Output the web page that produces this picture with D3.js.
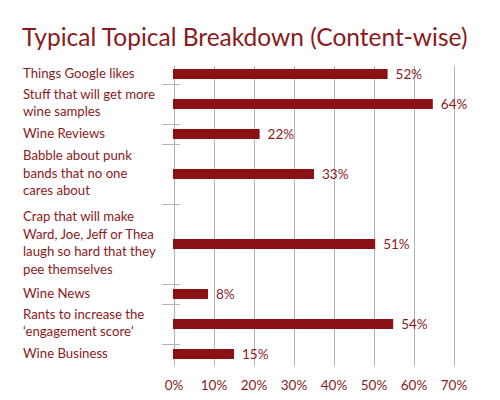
<!DOCTYPE html>
<html>
<head>
<meta charset="utf-8">
<script src="https://cdn.jsdelivr.net/npm/d3@7"></script>
<style>
  html, body { margin: 0; padding: 0; background: #fff; }
  svg { display: block; font-family: Lato, "Open Sans", sans-serif; }
</style>
</head>
<body>
<svg id="chart" width="500" height="400"></svg>
<script>
const title = "Typical Topical Breakdown (Content-wise)";
const categories = [
  "Things Google likes",
  "Stuff that will get more\nwine samples",
  "Wine Reviews",
  "Babble about punk\nbands that no one\ncares about",
  "Crap that will make\nWard, Joe, Jeff or Thea\nlaugh so hard that they\npee themselves",
  "Wine News",
  "Rants to increase the\n\u2018engagement score\u2019",
  "Wine Business"
];
const values = [53.4, 64.7, 21.4, 35, 50.3, 8.5, 54.8, 15];
const valueLabels = ["52%", "64%", "22%", "33%", "51%", "8%", "54%", "15%"];
const xTicks = [0, 10, 20, 30, 40, 50, 60, 70];

const red = "#8a1214";
const textRed = "#8b1a1c";
const grid = "#b3b3b3";

const svg = d3.select("#chart");

const x = d3.scaleLinear().domain([0, 70]).range([174, 454]);

const lines = categories.map(c => c.split("\n"));
const counts = lines.map(l => l.length);
const cum = [0];
counts.forEach((c, i) => cum.push(cum[i] + c));
const y = d3.scaleLinear().domain([0, cum[cum.length - 1]]).range([64, 364]);

// title
svg.append("text")
  .attr("x", 22).attr("y", 46)
  .attr("fill", textRed)
  .attr("font-size", 24.5)
  .text(title);

// gridlines
svg.append("g").selectAll("line").data(xTicks).join("line")
  .attr("x1", d => x(d) + 0.5).attr("x2", d => x(d) + 0.5)
  .attr("y1", 66).attr("y2", 366)
  .attr("stroke", grid).attr("stroke-width", 1);

// separators
svg.append("g").selectAll("line").data(cum.slice(1, -1)).join("line")
  .attr("x1", 162).attr("x2", 180)
  .attr("y1", d => Math.round(y(d)) + 0.5).attr("y2", d => Math.round(y(d)) + 0.5)
  .attr("stroke", grid).attr("stroke-width", 1);

// bars
const centers = counts.map((c, i) => y(cum[i] + c / 2));
svg.append("g").selectAll("rect").data(values).join("rect")
  .attr("x", x(0) - 1)
  .attr("y", (d, i) => centers[i] - 5)
  .attr("width", d => x(d) - x(0) + 1)
  .attr("height", 10)
  .attr("fill", red);

// value labels
svg.append("g").selectAll("text").data(values).join("text")
  .attr("x", d => x(d) + 8)
  .attr("y", (d, i) => centers[i] + 5)
  .attr("fill", textRed)
  .attr("font-size", 13.5)
  .text((d, i) => valueLabels[i]);

// category labels
const lh = 17.5;
const lab = svg.append("g").selectAll("text").data(lines).join("text")
  .attr("fill", textRed)
  .attr("font-size", 13.2)
  .attr("y", (d, i) => centers[i] - (d.length - 1) * lh / 2 + 3.5);
lab.selectAll("tspan").data(d => d).join("tspan")
  .attr("x", 23)
  .attr("dy", (d, j) => j === 0 ? 0 : lh)
  .text(d => d);

// x tick labels
svg.append("g").selectAll("text").data(xTicks).join("text")
  .attr("x", d => x(d))
  .attr("y", 390)
  .attr("text-anchor", "middle")
  .attr("fill", textRed)
  .attr("font-size", 13.5)
  .text(d => d + "%");
</script>
</body>
</html>
